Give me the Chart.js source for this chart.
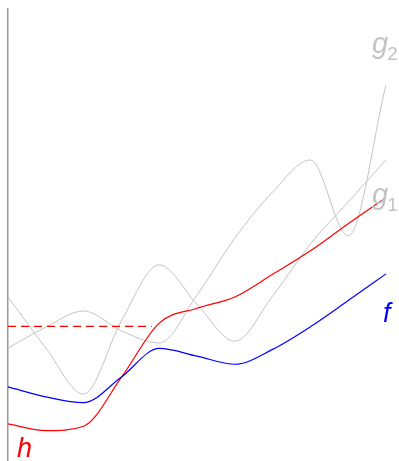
<!DOCTYPE html>
<html>
<head>
<meta charset="utf-8">
<script src="https://cdn.jsdelivr.net/npm/chart.js@4"></script>
<style>
  html, body { margin: 0; padding: 0; background: #fff; }
  #chart { display: block; }
</style>
</head>
<body>
<canvas id="chart" width="399" height="461"></canvas>
<script>
// ---------- DATA ----------
const xValues = [0, 1, 2, 3, 4, 5, 6, 7, 8, 9, 10];

const fValues  = [1.64, 1.42, 1.29, 1.86, 2.49, 2.32, 2.14, 2.47, 2.97, 3.55, 4.14];
const hValues  = [0.82, 0.67, 0.77, 1.85, 3.05, 3.38, 3.63, 4.13, 4.65, 5.25, 5.83];
const g1Values = [3.63, 2.50, 1.48, 3.10, 4.34, 3.47, 2.65, 3.65, 4.80, 5.73, 6.66];
const g2Values = [2.50, 2.96, 3.32, 2.88, 2.61, 3.67, 4.93, 5.95, 6.66, 4.98, 8.32];

// dashed level of h, drawn from the axis to x = 3.8
const dashX = [0, 3.8];
const dashValues = [2.98, 2.98];

// ---------- HELPERS ----------
function toPoints(xs, ys) {
  return xs.map((x, i) => ({ x: x, y: ys[i] }));
}

const GRAY = '#c3c3c3';

// curve names, drawn as text next to the curves
const curveLabels = [
  { text: 'g', sub: '2', x: 9.63, y: 9.02, color: GRAY },
  { text: 'g', sub: '1', x: 9.63, y: 5.68, color: GRAY },
  { text: 'f', sub: '',  x: 9.92, y: 3.08, color: '#0000ff' },
  { text: 'h', sub: '',  x: 0.24, y: 0.09, color: '#ff0000' }
];

const labelPlugin = {
  id: 'curveLabels',
  afterDraw(chart) {
    const ctx = chart.ctx;
    const xs = chart.scales.x, ys = chart.scales.y;
    ctx.save();
    ctx.textBaseline = 'alphabetic';
    ctx.textAlign = 'left';
    curveLabels.forEach(l => {
      const px = xs.getPixelForValue(l.x);
      const py = ys.getPixelForValue(l.y);
      ctx.fillStyle = l.color;
      ctx.font = (l.sub ? 'italic 29px' : 'italic 27px') + ' "Liberation Sans", Arial, sans-serif';
      ctx.fillText(l.text, px, py);
      if (l.sub) {
        const w = ctx.measureText(l.text).width;
        ctx.font = '19px "Liberation Sans", Arial, sans-serif';
        ctx.fillText(l.sub, px + w - 1, py + 7);
      }
    });
    ctx.restore();
  }
};

// ---------- CHART ----------
const lineBase = {
  pointRadius: 0,
  fill: false,
  cubicInterpolationMode: 'monotone'
};

new Chart(document.getElementById('chart').getContext('2d'), {
  type: 'line',
  data: {
    datasets: [
      Object.assign({ label: 'f', data: toPoints(xValues, fValues), borderColor: '#0000ff', borderWidth: 1.2 }, lineBase),
      Object.assign({ label: 'h', data: toPoints(xValues, hValues), borderColor: '#ff0000', borderWidth: 1.2 }, lineBase),
      Object.assign({ label: 'h level', data: toPoints(dashX, dashValues), borderColor: '#ff0000', borderWidth: 1.2, borderDash: [8, 5] }, lineBase),
      Object.assign({ label: 'g1', data: toPoints(xValues, g1Values), borderColor: GRAY, borderWidth: 1 }, lineBase),
      Object.assign({ label: 'g2', data: toPoints(xValues, g2Values), borderColor: GRAY, borderWidth: 1 }, lineBase)
    ]
  },
  options: {
    responsive: false,
    animation: false,
    devicePixelRatio: 1,
    layout: { padding: { left: 8, right: 13, top: 9, bottom: 0 } },
    plugins: { legend: { display: false }, tooltip: { enabled: false } },
    scales: {
      x: { type: 'linear', min: 0, max: 10, display: false },
      y: {
        type: 'linear', min: 0, max: 10,
        ticks: { display: false },
        grid: { display: false, drawTicks: false },
        border: { display: true, color: '#999', width: 1.5 }
      }
    }
  },
  plugins: [labelPlugin]
});
</script>
</body>
</html>
